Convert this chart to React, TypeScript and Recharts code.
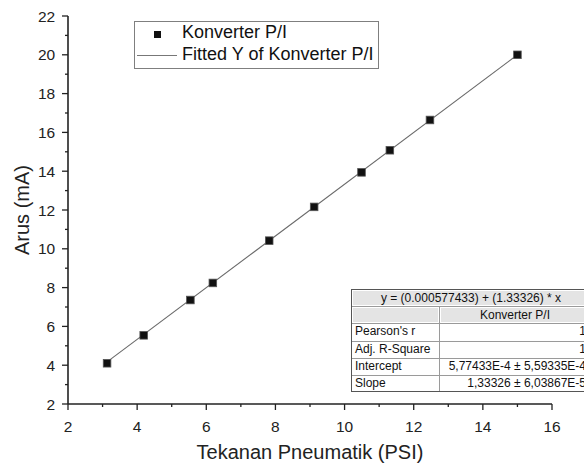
import React from 'react';
import { ScatterChart, Scatter, XAxis, YAxis } from 'recharts';

// ---- data ----
const pressurePsi = [3.13, 4.19, 5.54, 6.19, 7.82, 9.12, 10.49, 11.31, 12.47, 15.0];
const currentMa = [4.1, 5.54, 7.36, 8.24, 10.42, 12.16, 13.94, 15.08, 16.64, 20.0];
const fitPsi = [3.13, 15.0];
const fitMa = [4.17, 20.0];

const xMajorTicks = [2, 4, 6, 8, 10, 12, 14, 16];
const xMinorTicks = [3, 5, 7, 9, 11, 13, 15];
const yMajorTicks = [2, 4, 6, 8, 10, 12, 14, 16, 18, 20, 22];
const yMinorTicks = [3, 5, 7, 9, 11, 13, 15, 17, 19, 21];

const seriesName = 'Konverter P/I';
const fitName = 'Fitted Y of Konverter P/I';
const xTitle = 'Tekanan Pneumatik (PSI)';
const yTitle = 'Arus (mA)';

const equationText = 'y = (0.000577433) + (1.33326) * x';
const statLabels = ["Pearson's r", 'Adj. R-Square', 'Intercept', 'Slope'];
const statValues = ['1', '1', '5,77433E-4 ± 5,59335E-4', '1,33326 ± 6,03867E-5'];

const points = pressurePsi.map((x, i) => ({ x, y: currentMa[i] }));
const fitPoints = fitPsi.map((x, i) => ({ x, y: fitMa[i] }));
const xTicks = [...xMajorTicks, ...xMinorTicks].sort((a, b) => a - b);
const yTicks = [...yMajorTicks, ...yMinorTicks].sort((a, b) => a - b);

const AXIS = '#222';
const FONT = "'Liberation Sans', Arial, sans-serif";

const XTick = (props: any) => {
  const { x, y, payload } = props;
  const v = payload.value;
  const major = xMajorTicks.includes(v);
  return (
    <g>
      <line x1={x} x2={x} y1={y} y2={y + (major ? 6 : 3)} stroke={AXIS} strokeWidth={1.3} />
      {major && (
        <text x={x} y={y + 16.5} dy="0.71em" textAnchor="middle" fontSize={15.5} fill={AXIS} fontFamily={FONT}>
          {v}
        </text>
      )}
    </g>
  );
};

const YTick = (props: any) => {
  const { x, y, payload } = props;
  const v = payload.value;
  const major = yMajorTicks.includes(v);
  return (
    <g>
      <line x1={x - (major ? 6 : 3)} x2={x} y1={y} y2={y} stroke={AXIS} strokeWidth={1.3} />
      {major && (
        <text x={x - 12.8} y={y} dy="0.36em" textAnchor="end" fontSize={15.5} fill={AXIS} fontFamily={FONT}>
          {v}
        </text>
      )}
    </g>
  );
};

const SquareMarker = (props: any) => {
  const { cx, cy } = props;
  if (cx == null || cy == null) return <g />;
  return <rect x={cx - 3.8} y={cy - 3.8} width={7.6} height={7.6} fill="#111" stroke="#555" strokeWidth={0.8} />;
};

const NoMarker = () => <g />;

const Legend = () => (
  <>
    <div
      style={{
        position: 'absolute', left: 134, top: 21, width: 245, height: 48,
        border: '1px solid #7f7f7f', boxSizing: 'border-box', background: '#fff',
      }}
    />
    <div style={{ position: 'absolute', left: 154.3, top: 30.7, width: 7, height: 7, background: '#111' }} />
    <div style={{ position: 'absolute', left: 137, top: 54.5, width: 40, height: 1, background: '#777' }} />
    <div style={{ position: 'absolute', left: 182, top: 21, fontSize: 18, lineHeight: '22px', color: '#111', whiteSpace: 'nowrap' }}>
      {seriesName}
    </div>
    <div style={{ position: 'absolute', left: 182, top: 42.8, fontSize: 18, lineHeight: '22px', color: '#111', whiteSpace: 'nowrap' }}>
      {fitName}
    </div>
  </>
);

const StatsTable = () => {
  const left = 351;
  const top = 289;
  const width = 240;
  const rowH = 17.17;
  const col1 = 88;
  const rows = 2 + statLabels.length;
  const cellText: React.CSSProperties = {
    position: 'absolute', fontSize: 12, lineHeight: `${rowH}px`, color: '#111', whiteSpace: 'nowrap',
  };
  const grey = '#e4e4e4';
  return (
    <div
      style={{
        position: 'absolute', left, top, width, height: rowH * rows,
        border: '1px solid #555', boxSizing: 'border-box', background: '#fff',
      }}
    >
      {/* equation row */}
      <div style={{ position: 'absolute', left: 1, top: 1, width: width - 4, height: rowH - 3, background: grey }} />
      <div style={{ ...cellText, left: 0, top: 0, width: width - 2, textAlign: 'center' }}>{equationText}</div>
      {/* header row */}
      <div style={{ position: 'absolute', left: 1, top: rowH + 1, width: col1 - 3, height: rowH - 3, background: grey }} />
      <div style={{ position: 'absolute', left: col1 + 1, top: rowH + 1, width: width - col1 - 4, height: rowH - 3, background: grey }} />
      <div style={{ ...cellText, left: col1, top: rowH, width: width - col1 - 2, textAlign: 'center' }}>{seriesName}</div>
      {/* horizontal lines */}
      {Array.from({ length: rows - 1 }).map((_, i) => (
        <div key={'h' + i} style={{ position: 'absolute', left: 0, top: rowH * (i + 1) - 1, width: width - 2, height: 1, background: '#9a9a9a' }} />
      ))}
      {/* vertical divider */}
      <div style={{ position: 'absolute', left: col1 - 1, top: rowH - 1, width: 1, height: rowH * (rows - 1) - 1, background: '#9a9a9a' }} />
      {statLabels.map((lab, i) => (
        <React.Fragment key={lab}>
          <div style={{ ...cellText, left: 3, top: rowH * (i + 2) - 1 }}>{lab}</div>
          <div style={{ ...cellText, left: col1, top: rowH * (i + 2) - 1, width: width - col1 - 6, textAlign: 'right' }}>
            {statValues[i]}
          </div>
        </React.Fragment>
      ))}
    </div>
  );
};

export default function App() {
  return (
    <div
      style={{
        position: 'absolute', left: 0, top: 0, width: 584, height: 468, overflow: 'hidden',
        background: '#fff', fontFamily: FONT,
      }}
    >
      <ScatterChart width={584} height={468} margin={{ top: 16, right: 32, bottom: 0, left: 0 }}>
        <XAxis
          type="number"
          dataKey="x"
          domain={[2, 16]}
          ticks={xTicks}
          interval={0}
          allowDataOverflow
          height={64}
          tickSize={0}
          tickMargin={0}
          tickLine={false}
          tick={<XTick />}
          axisLine={{ stroke: AXIS, strokeWidth: 1.6 }}
          label={{ value: xTitle, position: 'insideBottom', offset: 9, fontSize: 20, fill: AXIS, fontFamily: FONT }}
        />
        <YAxis
          type="number"
          dataKey="y"
          domain={[2, 22]}
          ticks={yTicks}
          interval={0}
          allowDataOverflow
          width={68}
          tickSize={0}
          tickMargin={0}
          tickLine={false}
          tick={<YTick />}
          axisLine={{ stroke: AXIS, strokeWidth: 1.6 }}
          label={{
            value: yTitle, angle: -90, position: 'insideLeft', offset: 22, fontSize: 20, fill: AXIS,
            fontFamily: FONT, style: { textAnchor: 'middle' },
          }}
        />
        <Scatter
          name={fitName}
          data={fitPoints}
          line={{ stroke: '#6a6a6a', strokeWidth: 1.1 }}
          shape={<NoMarker />}
          isAnimationActive={false}
        />
        <Scatter name={seriesName} data={points} shape={<SquareMarker />} isAnimationActive={false} />
      </ScatterChart>
      <Legend />
      <StatsTable />
    </div>
  );
}
